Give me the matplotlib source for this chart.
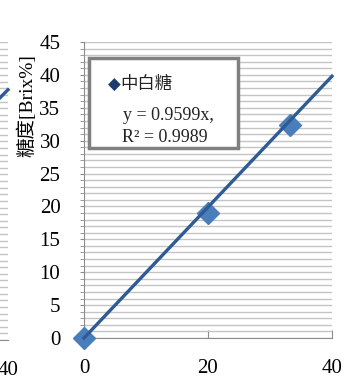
import matplotlib
matplotlib.use("Agg")
import matplotlib.pyplot as plt
from matplotlib.patches import Rectangle
from matplotlib.ticker import MultipleLocator

# Data
sugar_x = [0, 20, 33.3]
sugar_y = [0, 19.0, 32.4]
fit_x = [0, 40]
fit_y = [0, 39.8]
# remnant of the neighbouring chart on the left edge
left_x = [0, 40]
left_y = [0, 37.8]

x_ticks = [0, 20, 40]
y_ticks = [0, 5, 10, 15, 20, 25, 30, 35, 40, 45]

SERIF = ["Liberation Serif", "Noto Sans CJK TC", "DejaVu Sans"]
LINE_C = "#2E5B96"
MARK_C = "#4A7EBB"
GRID_C = "#C4C4C4"
SPINE_C = "#8C8C8C"

plt.rcParams["font.family"] = SERIF

W, H = 348, 378
fig = plt.figure(figsize=(W / 100, H / 100), dpi=100)

def px_axes(left, top, right, bottom):
    return fig.add_axes([left / W, 1 - bottom / H, (right - left) / W, (bottom - top) / H])

# ── neighbouring chart (cut off) ──
ax0 = px_axes(-240, 42, 8, 340)
ax0.set_xlim(0, 40)
ax0.set_ylim(0, 45)
ax0.yaxis.set_minor_locator(MultipleLocator(1))
ax0.grid(True, which="both", axis="y", color=GRID_C, lw=1)
ax0.plot(left_x, left_y, color=LINE_C, lw=2.4, clip_on=False)
ax0.set_xticks([40])
ax0.tick_params(axis="x", length=0, pad=15, labelsize=15)
ax0.set_yticks([])
for s in ["top", "right", "left"]:
    ax0.spines[s].set_visible(False)
ax0.spines["bottom"].set_color(SPINE_C)

# ── main chart ──
ax = px_axes(84, 42, 332, 338)
ax.set_xlim(0, 40)
ax.set_ylim(0, 45)
ax.set_xticks(x_ticks)
ax.set_yticks(y_ticks)
ax.yaxis.set_minor_locator(MultipleLocator(1))
ax.grid(True, which="both", axis="y", color=GRID_C, lw=1, zorder=0)
ax.set_axisbelow(True)
for s in ["top", "right"]:
    ax.spines[s].set_visible(False)
for s in ["left", "bottom"]:
    ax.spines[s].set_color(SPINE_C)
ax.tick_params(axis="x", direction="in", length=6, color=SPINE_C, pad=15, labelsize=15)
ax.tick_params(axis="y", which="major", direction="out", length=3, color=SPINE_C,
               pad=14, labelsize=15)
ax.tick_params(axis="y", which="minor", direction="out", length=3, color=SPINE_C)

ax.plot(sugar_x, sugar_y, linestyle="none", marker="D", markersize=11,
        color=MARK_C, clip_on=False, zorder=3)
ax.plot(fit_x, fit_y, color=LINE_C, lw=2.4, clip_on=False, zorder=4)

ax.set_ylabel("糖度[Brix%]", fontsize=14)
ax.yaxis.set_label_coords(-0.19, 0.784)

# label box
ax.add_patch(Rectangle((0.02, 0.642), 0.60, 0.304, transform=ax.transAxes,
                       facecolor="white", edgecolor="#808080", lw=2.5, zorder=5))
ax.text(0.097, 0.855, "◆", transform=ax.transAxes, color="#1F3A6E",
        family=["DejaVu Sans"], fontsize=12, va="center", zorder=6)
ax.text(0.147, 0.855, "中白糖", transform=ax.transAxes, color="#222222",
        fontsize=12.5, va="center", zorder=6)
ax.text(0.157, 0.75, "y = 0.9599x,", transform=ax.transAxes, color="#222222",
        fontsize=13, va="center", zorder=6)
ax.text(0.153, 0.676, "R² = 0.9989", transform=ax.transAxes, color="#222222",
        fontsize=13, va="center", zorder=6)

fig.savefig("out.png", dpi=100)
